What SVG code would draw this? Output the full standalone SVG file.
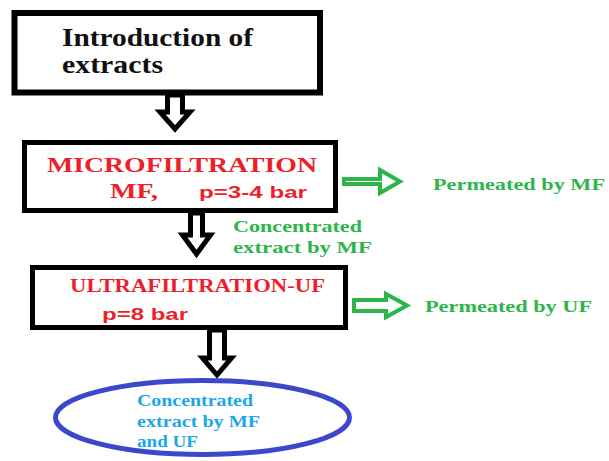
<svg xmlns="http://www.w3.org/2000/svg" width="609" height="461" viewBox="0 0 609 461">
<style>
.box{fill:#fff;stroke:#000;}
.arr{fill:#fff;stroke:#000;stroke-width:5;stroke-linejoin:miter;}
.garr{fill:#fff;stroke:#2db54b;stroke-width:4;stroke-linejoin:miter;}
.serif{font-family:"Liberation Serif","Times New Roman",serif;font-weight:bold;}
.sans{font-family:"Liberation Sans",Arial,sans-serif;font-weight:bold;}
.red{fill:#ee1f2b;}
.green{fill:#2db54b;}
.blue{fill:#22a6ea;}
</style>
<rect width="609" height="461" fill="#fff"/>
<g id="connectors">
<polygon class="arr" points="167.5,95 182.5,95 182.5,112 190,112 175,129 160,112 167.5,112"/>
<polygon class="arr" points="190.5,213 202.5,213 202.5,235 210.5,235 196.5,254 182.5,235 190.5,235"/>
<polygon class="arr" points="209.5,330 224.5,330 224.5,358 231.5,358 217,375 202.5,358 209.5,358"/>
<polygon class="garr" points="344,179 380,179 380,170 400,181.5 380,193 380,184 344,184"/>
<polygon class="garr" points="354,300 386,300 386,294 407,305.5 386,317 386,311 354,311"/>
</g>
<g id="intro">
<rect class="box" x="14.5" y="13" width="305.5" height="79.5" stroke-width="6"/>
<text class="serif" x="62" y="46" font-size="26" fill="#111" textLength="191" lengthAdjust="spacingAndGlyphs">Introduction of</text>
<text class="serif" x="62" y="73" font-size="26" fill="#111" textLength="101" lengthAdjust="spacingAndGlyphs">extracts</text>
</g>
<g id="mf">
<rect class="box" x="24.5" y="142.5" width="311" height="68" stroke-width="5"/>
<text class="serif red" x="47" y="172" font-size="20" textLength="270" lengthAdjust="spacingAndGlyphs">MICROFILTRATION</text>
<text class="serif red" x="110" y="198" font-size="20" textLength="48" lengthAdjust="spacingAndGlyphs">MF,</text>
<text class="sans red" x="199" y="198" font-size="17" textLength="108" lengthAdjust="spacingAndGlyphs">p=3-4 bar</text>
</g>
<g id="mf-permeate">
<text class="serif green" x="433" y="190" font-size="17" textLength="172" lengthAdjust="spacingAndGlyphs">Permeated by MF</text>
</g>
<g id="mf-concentrate">
<text class="serif green" x="233" y="232" font-size="17" textLength="129" lengthAdjust="spacingAndGlyphs">Concentrated</text>
<text class="serif green" x="233" y="253" font-size="17" textLength="139" lengthAdjust="spacingAndGlyphs">extract by MF</text>
</g>
<g id="uf">
<rect class="box" x="32.5" y="267.5" width="313" height="60" stroke-width="5"/>
<text class="serif red" x="70" y="292" font-size="19" textLength="255" lengthAdjust="spacingAndGlyphs">ULTRAFILTRATION-UF</text>
<text class="sans red" x="102" y="320" font-size="17" textLength="86" lengthAdjust="spacingAndGlyphs">p=8 bar</text>
</g>
<g id="uf-permeate">
<text class="serif green" x="425" y="312" font-size="17" textLength="167" lengthAdjust="spacingAndGlyphs">Permeated by UF</text>
</g>
<g id="final">
<ellipse cx="202.5" cy="417.5" rx="147" ry="37" fill="#fff" stroke="#3d47cc" stroke-width="5"/>
<text class="serif blue" x="137" y="406" font-size="16" textLength="116" lengthAdjust="spacingAndGlyphs">Concentrated</text>
<text class="serif blue" x="137" y="427" font-size="16" textLength="123" lengthAdjust="spacingAndGlyphs">extract by MF</text>
<text class="serif blue" x="137" y="447" font-size="16" textLength="61" lengthAdjust="spacingAndGlyphs">and UF</text>
</g>
</svg>
